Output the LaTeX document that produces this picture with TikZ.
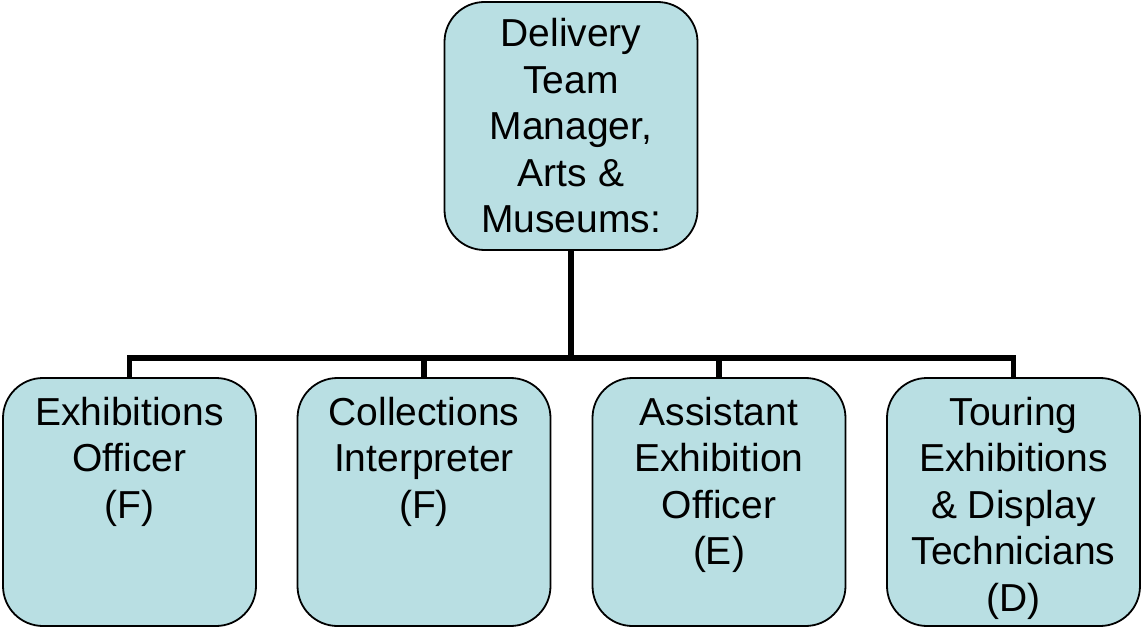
\documentclass[tikz,border=0pt]{standalone}
\usepackage{fontspec}
\setmainfont{Liberation Sans}
\definecolor{boxfill}{HTML}{B9DFE3}
\tikzset{
  orgbox/.style={draw=black, line width=1.8pt, fill=boxfill, rounded corners=40pt,
    minimum width=253pt, minimum height=248pt, inner sep=0pt, outer sep=0pt},
  orgtext/.style={align=center, inner sep=0pt, outer sep=0pt,
    font=\fontsize{39}{46.5}\selectfont},
  conn/.style={draw=black, line width=5.5pt}
}
\begin{document}
\begin{tikzpicture}[x=1pt, y=-1pt]
\useasboundingbox (0,0) rectangle (1141,628);
% boxes
\node[orgbox, orgtext] (top) at (571,126) {Delivery\\Team\\Manager,\\Arts \&\\Museums:};
\node[orgbox] (b1) at (129.5,502) {};
\node[orgbox] (b2) at (424,502) {};
\node[orgbox] (b3) at (719,502) {};
\node[orgbox] (b4) at (1013.5,502) {};
% connectors
\coordinate (bus) at (571,358);
\draw[conn] (top.south) -- (bus);
\draw[conn] (bus) -| (b1.north);
\draw[conn] (bus) -| (b2.north);
\draw[conn] (bus) -| (b3.north);
\draw[conn] (bus) -| (b4.north);
% texts
\node[orgtext, anchor=north] (t1) at (129.5,397) {Exhibitions\\Officer\\(F)};
\node[orgtext, anchor=north] (t2) at (424,397) {Collections\\Interpreter\\(F)};
\node[orgtext, anchor=north] (t3) at (719,397) {Assistant\\Exhibition\\Officer\\(E)};
\node[orgtext, anchor=north] (t4) at (1013.5,397) {Touring\\Exhibitions\\\& Display\\Technicians\\(D)};
\end{tikzpicture}
\end{document}
